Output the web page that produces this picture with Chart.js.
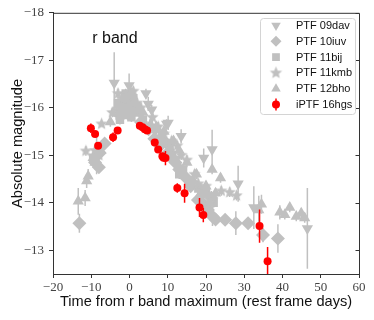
<!DOCTYPE html>
<html>
<head>
<meta charset="utf-8">
<script src="https://cdn.jsdelivr.net/npm/chart.js@4/dist/chart.umd.min.js"></script>
<style>
  html, body { margin: 0; padding: 0; background: #fff; }
</style>
</head>
<body>
<canvas id="grafico" width="374" height="320"></canvas>
<script>
// dados: dias desde o máximo na banda r, magnitude absoluta, erro
const dias09dav = [-4.0, -0.1, -0.1, 4.3, 4.9, 5.8, 9.7, 10.1, 13.5, 19.4, 21.6, 28.4, 32.5, 46.5];
const mag09dav  = [-16.52, -16.47, -16.28, -16.30, -16.08, -15.96, -15.66, -15.68, -15.40, -14.94, -15.12, -14.40, -13.90, -13.46];
const err09dav  = [0.65, 0.25, 0.2, 0.1, 0.15, 0.1, 0.1, 0.15, 0.15, 0.2, 0.42, 0.38, 0.45, 0.85];

const dias10iuv = [-13.1, -9.0, -8.0, -7.8, -6.5, -2.0, -1.0, 1.0, 3.0, 5.0, 6.5, 8.0, 9.0, 10.0, 11.0, 12.0, 13.0, 14.5, 16.0, 17.9, 19.0, 20.5, 21.4, 21.7, 22.5, 25.0, 27.8, 31.0, 34.9, 38.8];
const mag10iuv  = [-13.57, -14.85, -14.75, -15.05, -15.25, -15.85, -16.05, -15.95, -15.7, -15.55, -15.35, -15.2, -15.3, -15.05, -14.95, -14.85, -14.7, -14.55, -14.35, -14.06, -14.0, -13.85, -14.10, -13.71, -13.65, -13.64, -13.57, -13.57, -13.32, -13.25];
const err10iuv  = [0.2, 0.15, 0.1, 0.1, 0.1, 0.1, 0.1, 0.1, 0.1, 0.1, 0.1, 0.1, 0.1, 0.1, 0.1, 0.1, 0.1, 0.1, 0.1, 0.15, 0.1, 0.1, 0.15, 0.2, 0.1, 0.1, 0.25, 0.1, 0.15, 0.3];

const dias11bij = [-9.5, -9.0, -8.5, -8.0, -3.5, -3.0, -2.5, -1.5, -1.0, -0.5, 0.0, 0.5, 1.0, 1.5, 2.5, 3.5, 5.0, 7.0, 8.5, 9.5, 10.5, 11.0, 12.0, 13.0, 14.0, 15.5, 16.0, 18.0, 20.0, 22.0];
const mag11bij  = [-14.95, -14.9, -15.05, -15.1, -15.9, -16.1, -15.75, -16.0, -16.3, -15.85, -16.1, -15.8, -16.2, -15.95, -15.9, -15.75, -15.6, -15.55, -15.3, -15.25, -15.2, -15.0, -14.9, -14.6, -14.7, -14.4, -14.45, -14.3, -14.2, -14.0];
const err11bij  = [0.1, 0.1, 0.15, 0.1, 0.15, 0.1, 0.1, 0.1, 0.1, 0.1, 0.1, 0.1, 0.1, 0.1, 0.1, 0.1, 0.1, 0.1, 0.1, 0.1, 0.1, 0.1, 0.15, 0.1, 0.1, 0.1, 0.1, 0.15, 0.1, 0.1];

const dias11kmb = [-11.4, -9.0, -8.0, -7.3, -4.5, -3.0, -2.0, 0.0, 1.0, 2.0, 3.0, 6.0, 7.5, 9.0, 11.0, 12.5, 13.5, 15.0, 17.0, 18.0, 20.0, 21.0, 24.0, 26.2, 28.0];
const mag11kmb  = [-15.09, -15.1, -15.0, -15.66, -15.9, -16.3, -16.2, -16.25, -16.35, -16.1, -16.0, -15.8, -15.6, -15.45, -15.3, -15.2, -15.0, -14.9, -14.6, -14.4, -14.35, -14.0, -14.25, -14.22, -14.15];
const err11kmb  = [0.1, 0.1, 0.1, 0.05, 0.1, 0.1, 0.1, 0.1, 0.1, 0.1, 0.1, 0.1, 0.1, 0.1, 0.1, 0.1, 0.1, 0.1, 0.1, 0.1, 0.1, 0.1, 0.1, 0.1, 0.1];

const dias12bho = [-13.4, -11.6, -11.2, -10.8, -9.5, -9.0, -8.6, -7.5, -5.0, -3.0, -2.0, -1.0, 0.5, 1.5, 2.5, 3.5, 5.5, 7.0, 8.0, 9.0, 10.5, 11.5, 12.3, 13.0, 14.0, 15.0, 16.6, 17.5, 18.4, 20.0, 21.6, 22.5, 23.8, 33.8, 34.5, 39.3, 40.6, 41.9, 43.6, 44.9, 45.8];
const mag12bho  = [-14.03, -14.1, -14.46, -14.56, -14.95, -14.85, -15.0, -15.1, -15.7, -16.05, -15.95, -16.2, -16.3, -16.1, -16.0, -15.9, -15.65, -15.6, -15.4, -15.5, -15.15, -15.3, -14.87, -15.1, -14.6, -14.85, -14.48, -14.6, -14.17, -14.35, -14.7, -14.2, -14.52, -13.85, -13.97, -13.8, -13.75, -13.9, -13.71, -13.78, -13.68];
const err12bho  = [0.28, 0.17, 0.15, 0.15, 0.15, 0.1, 0.4, 0.1, 0.1, 0.1, 0.1, 0.1, 0.1, 0.1, 0.1, 0.1, 0.1, 0.1, 0.1, 0.1, 0.1, 0.1, 0.1, 0.1, 0.1, 0.1, 0.1, 0.1, 0.1, 0.1, 0.1, 0.1, 0.1, 0.3, 0.2, 0.15, 0.1, 0.1, 0.1, 0.1, 0.1];

const dias16hgs = [-10.1, -9.0, -8.2, -4.3, -3.1, 2.7, 3.4, 4.0, 4.6, 6.6, 7.5, 8.6, 8.9, 9.4, 12.5, 14.4, 18.3, 19.3, 34.0, 36.1];
const mag16hgs  = [-15.57, -15.45, -15.2, -15.38, -15.52, -15.62, -15.59, -15.55, -15.52, -15.27, -15.12, -14.98, -14.95, -14.94, -14.31, -14.2, -13.9, -13.74, -13.51, -12.77];
const err16hgs  = [0.1, 0.05, 0.05, 0.1, 0.05, 0.05, 0.05, 0.05, 0.05, 0.05, 0.05, 0.05, 0.05, 0.15, 0.1, 0.2, 0.2, 0.15, 0.35, 0.3];

const ticksX = [-20, -10, 0, 10, 20, 30, 40, 50, 60];
const ticksY = [-18, -17, -16, -15, -14, -13];

const cinza = "#c0c0c0";
const vermelho = "#ff0000";

function pontos(dias, mags) {
  return dias.map((d, i) => ({ x: d, y: mags[i] }));
}

function estrela(r, cor) {
  const c = document.createElement("canvas");
  c.width = c.height = r * 2 + 2;
  const g = c.getContext("2d");
  g.fillStyle = cor;
  g.beginPath();
  for (let i = 0; i < 10; i++) {
    const a = -Math.PI / 2 + i * Math.PI / 5;
    const rr = i % 2 ? r * 0.45 : r;
    g.lineTo(c.width / 2 + rr * Math.cos(a), c.height / 2 + rr * Math.sin(a));
  }
  g.closePath();
  g.fill();
  return c;
}

const imgEstrela = estrela(6.5, cinza);

function serie(nome, dias, mags, erros, estilo, raio, rot, cor, ordem) {
  return {
    label: nome,
    data: pontos(dias, mags),
    erros: erros,
    pointStyle: estilo,
    rotation: rot,
    pointRadius: raio,
    pointBorderWidth: 0,
    backgroundColor: cor,
    borderColor: cor,
    showLine: false,
    order: ordem
  };
}

const datasets = [
  serie("PTF 09dav", dias09dav, mag09dav, err09dav, "triangle", 6.5, 180, cinza, 6),
  serie("PTF 10iuv", dias10iuv, mag10iuv, err10iuv, "rectRot", 7, 0, cinza, 5),
  serie("PTF 11bij", dias11bij, mag11bij, err11bij, "rect", 6, 0, cinza, 4),
  serie("PTF 11kmb", dias11kmb, mag11kmb, err11kmb, imgEstrela, 6.5, 0, cinza, 3),
  serie("PTF 12bho", dias12bho, mag12bho, err12bho, "triangle", 6.5, 0, cinza, 2),
  serie("iPTF 16hgs", dias16hgs, mag16hgs, err16hgs, "circle", 4, 0, vermelho, 1)
];

// barras de erro desenhadas antes de cada série
const barrasErro = {
  id: "barrasErro",
  beforeDatasetDraw(chart, args) {
    const ds = chart.data.datasets[args.index];
    const { ctx, chartArea: a, scales: { x, y } } = chart;
    ctx.save();
    ctx.beginPath();
    ctx.rect(a.left, a.top, a.right - a.left, a.bottom - a.top);
    ctx.clip();
    ctx.strokeStyle = ds.borderColor;
    ctx.lineWidth = 1.5;
    ds.data.forEach((p, i) => {
      const px = x.getPixelForValue(p.x);
      ctx.beginPath();
      ctx.moveTo(px, y.getPixelForValue(p.y - ds.erros[i]));
      ctx.lineTo(px, y.getPixelForValue(p.y + ds.erros[i]));
      ctx.stroke();
    });
    ctx.restore();
  }
};

// moldura, texto "r band" e legenda
const extras = {
  id: "extras",
  afterDraw(chart) {
    const { ctx, chartArea: a, scales: { x, y } } = chart;
    ctx.save();
    ctx.strokeStyle = "#333";
    ctx.lineWidth = 1;
    ctx.beginPath();
    ctx.moveTo(a.left, a.top + 0.5);
    ctx.lineTo(a.right + 0.5, a.top + 0.5);
    ctx.lineTo(a.right + 0.5, a.bottom);
    ctx.stroke();
    ticksY.forEach(v => {
      const py = Math.round(y.getPixelForValue(v)) + 0.5;
      ctx.beginPath();
      ctx.moveTo(a.right, py);
      ctx.lineTo(a.right - 3.5, py);
      ctx.stroke();
    });

    ctx.fillStyle = "#111";
    ctx.font = "16px 'Liberation Sans'";
    ctx.textAlign = "center";
    ctx.textBaseline = "middle";
    ctx.fillText("r band", x.getPixelForValue(-3.8), y.getPixelForValue(-17.45));

    // legenda
    const bx = 260, by = 18, bw = 95, bh = 96;
    ctx.fillStyle = "rgba(255,255,255,0.8)";
    ctx.strokeStyle = "#d4d4d4";
    ctx.beginPath();
    ctx.roundRect(bx + 0.5, by + 0.5, bw, bh, 3);
    ctx.fill();
    ctx.stroke();
    ctx.font = "11px 'Liberation Sans'";
    ctx.textAlign = "left";
    chart.data.datasets.forEach((ds, i) => {
      const ly = 25.5 + i * 15.8;
      const lx = 276;
      ctx.fillStyle = ds.backgroundColor;
      ctx.strokeStyle = ds.borderColor;
      if (i === 5) {
        ctx.lineWidth = 1.5;
        ctx.beginPath();
        ctx.moveTo(lx, ly - 6);
        ctx.lineTo(lx, ly + 6);
        ctx.stroke();
      }
      Chart.helpers.drawPoint(ctx, {
        pointStyle: ds.pointStyle,
        rotation: ds.rotation,
        radius: Math.min(ds.pointRadius, 5.5),
        borderWidth: 0
      }, lx, ly);
      ctx.fillStyle = "#111";
      ctx.fillText(ds.label, 296, ly + 0.5);
    });
    ctx.restore();
  }
};

function menos(v) {
  return v < 0 ? "\u2212" + Math.abs(v) : String(v);
}

new Chart(document.getElementById("grafico"), {
  type: "scatter",
  data: { datasets: datasets },
  options: {
    responsive: false,
    animation: false,
    layout: { padding: { top: 12, right: 15, left: 0, bottom: 0 } },
    plugins: {
      legend: { display: false },
      tooltip: { enabled: false }
    },
    scales: {
      x: {
        min: -20,
        max: 60,
        afterFit: s => { s.height = 46; },
        afterBuildTicks: s => { s.ticks = ticksX.map(v => ({ value: v })); },
        border: { color: "#333", width: 1 },
        grid: { display: true, drawOnChartArea: false, tickLength: 4, color: "#333" },
        ticks: {
          color: "#444",
          padding: 2,
          maxRotation: 0,
          font: { family: "'Liberation Serif'", size: 13 },
          callback: v => menos(v)
        },
        title: {
          display: true,
          text: "Time from r band maximum (rest frame days)",
          color: "#111",
          font: { family: "'Liberation Sans'", size: 14.6 },
          padding: { top: 0, bottom: 9 }
        }
      },
      y: {
        reverse: true,
        min: -18,
        max: -12.5,
        afterFit: s => { s.width = 53; },
        afterBuildTicks: s => { s.ticks = ticksY.map(v => ({ value: v })); },
        border: { color: "#333", width: 1 },
        grid: { display: true, drawOnChartArea: false, tickLength: 4, color: "#333" },
        ticks: {
          color: "#444",
          padding: 5,
          font: { family: "'Liberation Serif'", size: 13 },
          callback: v => menos(v)
        },
        title: {
          display: true,
          text: "Absolute magnitude",
          color: "#111",
          font: { family: "'Liberation Sans'", size: 14.6 },
          padding: { top: 9, bottom: 0 }
        }
      }
    }
  },
  plugins: [barrasErro, extras]
});
</script>
</body>
</html>
